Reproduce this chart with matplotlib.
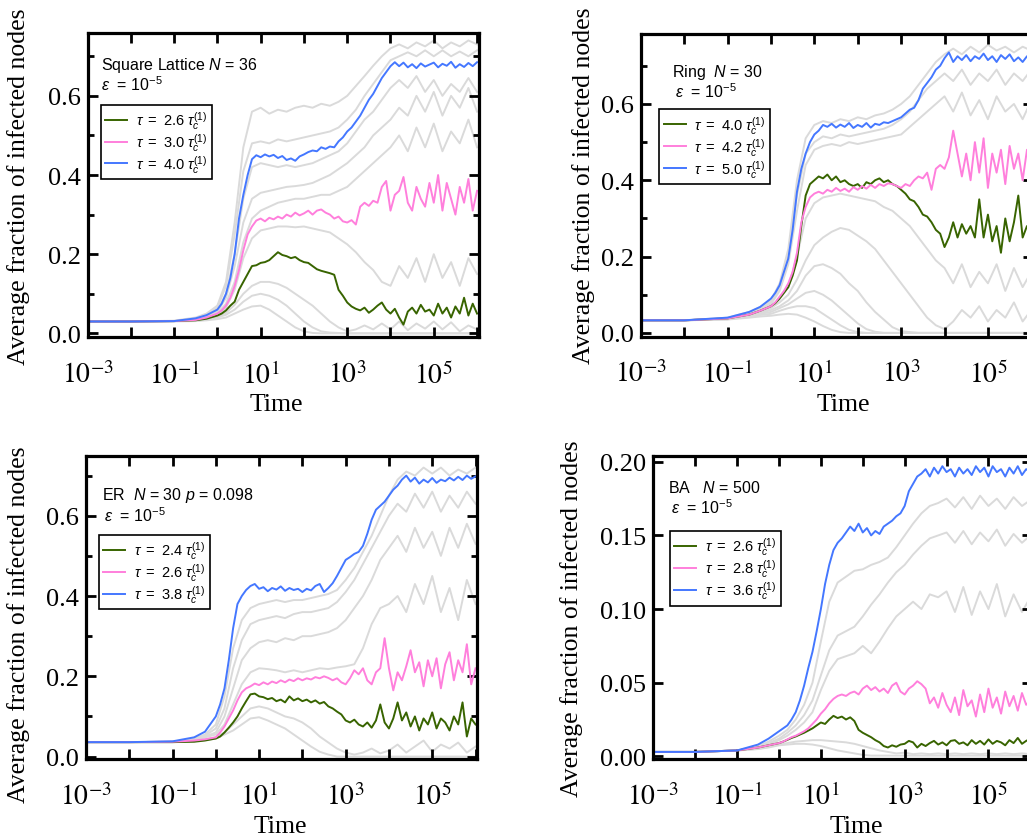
import numpy as np
import matplotlib
matplotlib.use("Agg")
import matplotlib.pyplot as plt
from matplotlib.ticker import FixedLocator, FuncFormatter, NullLocator, MultipleLocator, FormatStrFormatter
from matplotlib.font_manager import FontProperties

plt.rcParams['font.family'] = 'Liberation Serif'
plt.rcParams['mathtext.fontset'] = 'stix'
plt.rcParams['mathtext.rm'] = 'Liberation Sans'
plt.rcParams['mathtext.it'] = 'Liberation Sans:italic'
plt.rcParams['mathtext.bf'] = 'Liberation Sans:bold'

# ---------------- time grids (log10 of time) ----------------
LOGT_F = [-3, -2, -1, -0.5, -0.25,
          0.0, 0.1, 0.2, 0.3, 0.4, 0.5, 0.6, 0.7, 0.8, 0.9,
          1.0, 1.1, 1.2, 1.3, 1.4, 1.5, 1.6, 1.7, 1.8, 1.9,
          2.0, 2.1, 2.2, 2.3, 2.4, 2.5, 2.6, 2.7, 2.8, 2.9,
          3.0, 3.1, 3.2, 3.3, 3.4, 3.5, 3.6, 3.7, 3.8, 3.9,
          4.0, 4.1, 4.2, 4.3, 4.4, 4.5, 4.6, 4.7, 4.8, 4.9,
          5.0, 5.1, 5.2, 5.3, 5.4, 5.5, 5.6, 5.7, 5.8, 5.9, 6.0]
LOGT_C = [-3, -2, -1, -0.5, -0.25,
          0.0, 0.2, 0.4, 0.6, 0.8, 1.0, 1.2, 1.4, 1.6, 1.8,
          2.0, 2.2, 2.4, 2.6, 2.8, 3.0, 3.2, 3.4, 3.6, 3.8,
          4.0, 4.2, 4.4, 4.6, 4.8, 5.0, 5.2, 5.4, 5.6, 5.8, 6.0]

# ---------------- Panel 1: Square lattice ----------------
sq_green = [0.03, 0.03, 0.031, 0.033, 0.037,
            0.045, 0.05, 0.058, 0.07, 0.08, 0.11, 0.13, 0.15, 0.17, 0.172,
            0.178, 0.18, 0.185, 0.195, 0.205, 0.198, 0.195, 0.19, 0.193, 0.185,
            0.18, 0.178, 0.17, 0.162, 0.158, 0.155, 0.152, 0.148, 0.11, 0.095,
            0.078, 0.068, 0.062, 0.058, 0.065, 0.052, 0.06, 0.07, 0.078, 0.06,
            0.05, 0.062, 0.04, 0.022, 0.055, 0.065, 0.05, 0.072, 0.055, 0.06,
            0.045, 0.075, 0.05, 0.065, 0.04, 0.068, 0.05, 0.09, 0.045, 0.075, 0.05]
sq_pink = [0.03, 0.03, 0.031, 0.034, 0.04,
           0.05, 0.058, 0.07, 0.09, 0.12, 0.16, 0.21, 0.25, 0.27, 0.285,
           0.29, 0.283, 0.292, 0.288, 0.295, 0.29, 0.30, 0.295, 0.305, 0.298,
           0.303, 0.31, 0.30, 0.31, 0.313, 0.305, 0.30, 0.29, 0.295, 0.283,
           0.28, 0.286, 0.275, 0.32, 0.33, 0.322, 0.335, 0.33, 0.37, 0.385,
           0.31, 0.35, 0.36, 0.395, 0.33, 0.31, 0.37, 0.34, 0.32, 0.38,
           0.33, 0.40, 0.31, 0.38, 0.34, 0.30, 0.37, 0.33, 0.39, 0.31, 0.36]
sq_blue = [0.03, 0.03, 0.031, 0.038, 0.046,
           0.06, 0.075, 0.10, 0.14, 0.20, 0.29, 0.35, 0.40, 0.44, 0.45,
           0.445, 0.452, 0.447, 0.451, 0.443, 0.448, 0.438, 0.442, 0.436, 0.447,
           0.452, 0.458, 0.462, 0.46, 0.47, 0.466, 0.472, 0.47, 0.485, 0.495,
           0.51, 0.52, 0.535, 0.55, 0.57, 0.59, 0.605, 0.625, 0.645, 0.66,
           0.675, 0.685, 0.675, 0.684, 0.672, 0.68, 0.67, 0.682, 0.674, 0.679,
           0.684, 0.672, 0.681, 0.676, 0.686, 0.671, 0.68, 0.673, 0.683, 0.675, 0.685]
sq_gray1 = [0.03, 0.03, 0.032, 0.04, 0.05, 0.07, 0.13, 0.28, 0.47, 0.56,
            0.57, 0.555, 0.565, 0.56, 0.57, 0.575, 0.57, 0.58, 0.575, 0.585,
            0.60, 0.625, 0.65, 0.676, 0.70, 0.72, 0.73, 0.72, 0.735, 0.725,
            0.74, 0.72, 0.735, 0.725, 0.74, 0.73]
sq_gray2 = [0.03, 0.03, 0.031, 0.038, 0.047, 0.065, 0.12, 0.25, 0.41, 0.48,
            0.485, 0.48, 0.49, 0.485, 0.49, 0.495, 0.50, 0.505, 0.51, 0.52,
            0.54, 0.565, 0.60, 0.63, 0.66, 0.69, 0.70, 0.71, 0.70, 0.715,
            0.70, 0.715, 0.70, 0.712, 0.70, 0.715]
sq_gray3 = [0.03, 0.03, 0.031, 0.036, 0.044, 0.058, 0.10, 0.20, 0.34, 0.42,
            0.43, 0.425, 0.42, 0.425, 0.42, 0.425, 0.43, 0.44, 0.45, 0.46,
            0.48, 0.51, 0.54, 0.56, 0.59, 0.62, 0.64, 0.62, 0.65, 0.61,
            0.64, 0.60, 0.63, 0.61, 0.645, 0.61]
sq_gray4 = [0.03, 0.03, 0.031, 0.035, 0.042, 0.054, 0.09, 0.17, 0.28, 0.34,
            0.355, 0.36, 0.365, 0.37, 0.372, 0.375, 0.38, 0.39, 0.40, 0.415,
            0.43, 0.45, 0.47, 0.50, 0.52, 0.54, 0.57, 0.55, 0.60, 0.56,
            0.61, 0.55, 0.60, 0.57, 0.62, 0.56]
sq_gray5 = [0.03, 0.03, 0.031, 0.034, 0.04, 0.05, 0.075, 0.13, 0.23, 0.29,
            0.31, 0.32, 0.33, 0.335, 0.34, 0.34, 0.345, 0.35, 0.35, 0.36,
            0.37, 0.39, 0.41, 0.43, 0.45, 0.47, 0.50, 0.46, 0.52, 0.47,
            0.53, 0.46, 0.51, 0.48, 0.54, 0.47]
sq_gray6 = [0.03, 0.03, 0.031, 0.033, 0.038, 0.045, 0.065, 0.11, 0.19, 0.24,
            0.26, 0.265, 0.27, 0.27, 0.268, 0.27, 0.265, 0.26, 0.255, 0.24,
            0.225, 0.205, 0.18, 0.16, 0.13, 0.12, 0.17, 0.14, 0.19, 0.13,
            0.20, 0.14, 0.18, 0.12, 0.19, 0.15]
sq_gray7 = [0.03, 0.03, 0.031, 0.033, 0.036, 0.042, 0.052, 0.072, 0.10, 0.12,
            0.13, 0.13, 0.125, 0.115, 0.10, 0.085, 0.07, 0.05, 0.03, 0.015,
            0.005, 0.01, 0.02, 0.01, 0.025, 0.01, 0.03, 0.008, 0.025, 0.012,
            0.03, 0.01, 0.028, 0.005, 0.02, 0.01]
sq_gray8 = [0.03, 0.03, 0.031, 0.032, 0.035, 0.04, 0.047, 0.06, 0.08, 0.095,
            0.10, 0.095, 0.085, 0.07, 0.05, 0.03, 0.015, 0.005, 0.002, 0.001,
            0.0, 0.0, 0.0, 0.0, 0.0, 0.0, 0.0, 0.0, 0.0, 0.0,
            0.0, 0.0, 0.0, 0.0, 0.0, 0.0]
sq_gray9 = [0.03, 0.03, 0.03, 0.031, 0.033, 0.036, 0.04, 0.05, 0.06, 0.068,
            0.07, 0.06, 0.045, 0.03, 0.015, 0.005, 0.001, 0.0, 0.0, 0.0,
            0.0, 0.0, 0.0, 0.0, 0.0, 0.0, 0.0, 0.0, 0.0, 0.0,
            0.0, 0.0, 0.0, 0.0, 0.0, 0.0]

# ---------------- Panel 2: Ring ----------------
ring_green = [0.033, 0.033, 0.038, 0.048, 0.058,
              0.07, 0.078, 0.09, 0.105, 0.12, 0.15, 0.19, 0.28, 0.36, 0.39,
              0.40, 0.41, 0.405, 0.415, 0.40, 0.41, 0.395, 0.40, 0.39, 0.385,
              0.39, 0.38, 0.395, 0.39, 0.40, 0.405, 0.395, 0.40, 0.39, 0.385,
              0.375, 0.365, 0.35, 0.345, 0.33, 0.31, 0.305, 0.29, 0.27, 0.26,
              0.225, 0.25, 0.29, 0.25, 0.285, 0.26, 0.28, 0.25, 0.35, 0.25,
              0.31, 0.24, 0.28, 0.21, 0.30, 0.24, 0.29, 0.36, 0.25, 0.28, 0.26]
ring_pink = [0.033, 0.033, 0.038, 0.048, 0.058,
             0.07, 0.08, 0.095, 0.11, 0.13, 0.16, 0.21, 0.29, 0.33, 0.355,
             0.365, 0.37, 0.365, 0.375, 0.37, 0.38, 0.372, 0.378, 0.37, 0.382,
             0.375, 0.385, 0.378, 0.388, 0.38, 0.39, 0.385, 0.392, 0.39, 0.385,
             0.38, 0.39, 0.385, 0.40, 0.41, 0.405, 0.42, 0.375, 0.43, 0.44,
             0.43, 0.46, 0.53, 0.47, 0.41, 0.47, 0.40, 0.50, 0.42, 0.51,
             0.38, 0.47, 0.42, 0.48, 0.39, 0.49, 0.43, 0.47, 0.40, 0.48, 0.44]
ring_blue = [0.033, 0.033, 0.04, 0.055, 0.068,
             0.09, 0.105, 0.125, 0.16, 0.195, 0.27, 0.37, 0.43, 0.47, 0.50,
             0.52, 0.53, 0.545, 0.54, 0.548, 0.538, 0.546, 0.54, 0.55, 0.537,
             0.545, 0.54, 0.55, 0.538, 0.548, 0.545, 0.552, 0.55, 0.555, 0.56,
             0.565, 0.575, 0.585, 0.59, 0.61, 0.64, 0.655, 0.67, 0.69, 0.70,
             0.72, 0.735, 0.71, 0.725, 0.715, 0.728, 0.712, 0.725, 0.718, 0.732,
             0.715, 0.725, 0.71, 0.728, 0.718, 0.73, 0.712, 0.722, 0.71, 0.725, 0.715]
ring_gray1 = [0.033, 0.033, 0.04, 0.055, 0.068, 0.085, 0.13, 0.22, 0.40, 0.51,
              0.545, 0.555, 0.55, 0.56, 0.555, 0.565, 0.56, 0.57, 0.575, 0.585,
              0.60, 0.62, 0.65, 0.68, 0.71, 0.73, 0.745, 0.73, 0.75, 0.735,
              0.755, 0.74, 0.75, 0.735, 0.75, 0.74]
ring_gray2 = [0.033, 0.033, 0.039, 0.052, 0.064, 0.08, 0.12, 0.20, 0.36, 0.47,
              0.50, 0.515, 0.51, 0.52, 0.515, 0.52, 0.525, 0.53, 0.535, 0.545,
              0.56, 0.58, 0.61, 0.64, 0.66, 0.68, 0.66, 0.69, 0.65, 0.68,
              0.66, 0.69, 0.65, 0.68, 0.66, 0.69]
ring_gray3 = [0.033, 0.033, 0.039, 0.05, 0.062, 0.075, 0.11, 0.18, 0.32, 0.44,
              0.48, 0.49, 0.495, 0.49, 0.50, 0.495, 0.50, 0.505, 0.51, 0.515,
              0.52, 0.54, 0.56, 0.58, 0.60, 0.62, 0.58, 0.63, 0.57, 0.61,
              0.56, 0.62, 0.58, 0.60, 0.56, 0.61]
ring_gray4 = [0.033, 0.033, 0.038, 0.047, 0.057, 0.07, 0.09, 0.12, 0.20, 0.30,
              0.34, 0.355, 0.36, 0.365, 0.36, 0.355, 0.35, 0.345, 0.33, 0.32,
              0.30, 0.28, 0.25, 0.22, 0.19, 0.17, 0.13, 0.18, 0.12, 0.16,
              0.13, 0.18, 0.11, 0.17, 0.12, 0.16]
ring_gray5 = [0.033, 0.033, 0.037, 0.045, 0.054, 0.065, 0.08, 0.10, 0.14, 0.19,
              0.23, 0.25, 0.265, 0.275, 0.27, 0.255, 0.24, 0.22, 0.19, 0.16,
              0.13, 0.10, 0.07, 0.04, 0.02, 0.01, 0.03, 0.06, 0.04, 0.07,
              0.03, 0.06, 0.04, 0.08, 0.03, 0.06]
ring_gray6 = [0.033, 0.033, 0.037, 0.044, 0.052, 0.06, 0.07, 0.085, 0.11, 0.15,
              0.175, 0.18, 0.17, 0.155, 0.13, 0.11, 0.08, 0.055, 0.035, 0.015,
              0.005, 0.002, 0.0, 0.0, 0.0, 0.0, 0.0, 0.0, 0.0, 0.0,
              0.0, 0.0, 0.0, 0.0, 0.0, 0.0]
ring_gray7 = [0.033, 0.033, 0.036, 0.043, 0.05, 0.055, 0.065, 0.075, 0.09, 0.105,
              0.11, 0.10, 0.085, 0.065, 0.045, 0.025, 0.01, 0.003, 0.0, 0.0,
              0.0, 0.0, 0.0, 0.0, 0.0, 0.0, 0.0, 0.0, 0.0, 0.0,
              0.0, 0.0, 0.0, 0.0, 0.0, 0.0]
ring_gray8 = [0.033, 0.033, 0.036, 0.042, 0.047, 0.05, 0.058, 0.065, 0.07, 0.07,
              0.065, 0.05, 0.035, 0.02, 0.008, 0.002, 0.0, 0.0, 0.0, 0.0,
              0.0, 0.0, 0.0, 0.0, 0.0, 0.0, 0.0, 0.0, 0.0, 0.0,
              0.0, 0.0, 0.0, 0.0, 0.0, 0.0]
ring_gray9 = [0.033, 0.033, 0.035, 0.04, 0.043, 0.045, 0.048, 0.05, 0.048, 0.04,
              0.03, 0.018, 0.008, 0.002, 0.0, 0.0, 0.0, 0.0, 0.0, 0.0,
              0.0, 0.0, 0.0, 0.0, 0.0, 0.0, 0.0, 0.0, 0.0, 0.0,
              0.0, 0.0, 0.0, 0.0, 0.0, 0.0]

# ---------------- Panel 3: ER ----------------
er_green = [0.036, 0.036, 0.036, 0.037, 0.04,
            0.045, 0.05, 0.06, 0.072, 0.085, 0.10, 0.12, 0.138, 0.155, 0.157,
            0.15, 0.148, 0.143, 0.146, 0.138, 0.142, 0.135, 0.15, 0.14, 0.145,
            0.138, 0.142, 0.135, 0.14, 0.132, 0.136, 0.125, 0.12, 0.112, 0.105,
            0.09, 0.085, 0.092, 0.08, 0.075, 0.085, 0.072, 0.09, 0.13, 0.085,
            0.07, 0.095, 0.135, 0.09, 0.11, 0.075, 0.10, 0.065, 0.095, 0.08,
            0.11, 0.07, 0.095, 0.085, 0.065, 0.10, 0.08, 0.135, 0.05, 0.095, 0.08]
er_pink = [0.036, 0.036, 0.037, 0.04, 0.043,
           0.048, 0.06, 0.075, 0.095, 0.115, 0.14, 0.16, 0.17, 0.175, 0.182,
           0.178, 0.185, 0.18, 0.187, 0.183, 0.19, 0.185, 0.192, 0.188, 0.195,
           0.19, 0.195, 0.192, 0.198, 0.195, 0.20, 0.196, 0.19, 0.195, 0.185,
           0.18, 0.195, 0.215, 0.205, 0.22, 0.19, 0.18, 0.21, 0.22, 0.295,
           0.22, 0.165, 0.21, 0.19, 0.225, 0.265, 0.21, 0.235, 0.175, 0.24,
           0.20, 0.245, 0.17, 0.23, 0.26, 0.19, 0.24, 0.21, 0.28, 0.18, 0.22]
er_blue = [0.036, 0.036, 0.038, 0.048, 0.062,
           0.10, 0.13, 0.17, 0.24, 0.32, 0.38, 0.40, 0.415, 0.425, 0.43,
           0.418, 0.422, 0.412, 0.42, 0.416, 0.424, 0.413, 0.42, 0.415, 0.418,
           0.41, 0.418, 0.414, 0.425, 0.43, 0.41, 0.42, 0.432, 0.45, 0.47,
           0.49, 0.497, 0.505, 0.51, 0.525, 0.555, 0.59, 0.615, 0.625, 0.635,
           0.65, 0.665, 0.675, 0.69, 0.70, 0.685, 0.695, 0.68, 0.69, 0.683,
           0.694, 0.682, 0.69, 0.686, 0.695, 0.688, 0.697, 0.689, 0.70, 0.692, 0.698]
er_gray1 = [0.036, 0.036, 0.037, 0.045, 0.055, 0.08, 0.15, 0.27, 0.34, 0.37,
            0.38, 0.385, 0.39, 0.385, 0.39, 0.39, 0.395, 0.40, 0.405, 0.415,
            0.44, 0.47, 0.51, 0.55, 0.60, 0.65, 0.69, 0.71, 0.70, 0.72,
            0.705, 0.72, 0.70, 0.715, 0.705, 0.72]
er_gray2 = [0.036, 0.036, 0.037, 0.043, 0.052, 0.07, 0.12, 0.22, 0.29, 0.33,
            0.34, 0.345, 0.35, 0.345, 0.355, 0.36, 0.36, 0.365, 0.37, 0.385,
            0.41, 0.44, 0.48, 0.52, 0.56, 0.60, 0.63, 0.61, 0.655, 0.62,
            0.66, 0.61, 0.65, 0.62, 0.66, 0.63]
er_gray3 = [0.036, 0.036, 0.037, 0.042, 0.05, 0.06, 0.10, 0.17, 0.24, 0.27,
            0.285, 0.29, 0.285, 0.295, 0.29, 0.30, 0.30, 0.305, 0.31, 0.32,
            0.34, 0.37, 0.40, 0.44, 0.49, 0.52, 0.55, 0.51, 0.57, 0.52,
            0.56, 0.50, 0.57, 0.52, 0.58, 0.53]
er_gray4 = [0.036, 0.036, 0.037, 0.041, 0.048, 0.055, 0.08, 0.13, 0.18, 0.21,
            0.22, 0.218, 0.215, 0.21, 0.215, 0.21, 0.215, 0.22, 0.218, 0.222,
            0.225, 0.23, 0.27, 0.33, 0.37, 0.38, 0.40, 0.36, 0.43, 0.38,
            0.45, 0.36, 0.42, 0.34, 0.44, 0.38]
er_gray5 = [0.036, 0.036, 0.036, 0.039, 0.043, 0.048, 0.06, 0.08, 0.10, 0.12,
            0.125, 0.12, 0.11, 0.10, 0.095, 0.085, 0.07, 0.05, 0.035, 0.02,
            0.01, 0.005, 0.01, 0.02, 0.008, 0.015, 0.03, 0.01, 0.025, 0.04,
            0.012, 0.03, 0.02, 0.035, 0.01, 0.025]
er_gray6 = [0.036, 0.036, 0.036, 0.038, 0.041, 0.045, 0.055, 0.065, 0.08, 0.095,
            0.098, 0.09, 0.08, 0.07, 0.055, 0.04, 0.025, 0.012, 0.005, 0.0,
            0.0, 0.0, 0.0, 0.0, 0.0, 0.0, 0.0, 0.0, 0.0, 0.0,
            0.0, 0.0, 0.0, 0.0, 0.0, 0.0]

# ---------------- Panel 4: BA ----------------
ba_green = [0.003, 0.003, 0.004, 0.006, 0.0075,
            0.009, 0.010, 0.0112, 0.0125, 0.0135, 0.0148, 0.016, 0.0175, 0.019, 0.021,
            0.023, 0.022, 0.025, 0.0275, 0.026, 0.027, 0.025, 0.0265, 0.024, 0.018,
            0.016, 0.0145, 0.013, 0.011, 0.0095, 0.007, 0.006, 0.0075, 0.0065, 0.008,
            0.0085, 0.0105, 0.0095, 0.006, 0.0085, 0.007, 0.009, 0.0105, 0.008, 0.0095,
            0.0075, 0.0105, 0.011, 0.0085, 0.0095, 0.0075, 0.011, 0.0085, 0.0105, 0.008,
            0.0115, 0.0085, 0.0105, 0.0095, 0.0075, 0.011, 0.009, 0.0125, 0.0085, 0.0105, 0.012]
ba_pink = [0.003, 0.003, 0.004, 0.006, 0.0075,
           0.009, 0.010, 0.0115, 0.013, 0.014, 0.0155, 0.017, 0.019, 0.022, 0.025,
           0.029, 0.032, 0.036, 0.039, 0.041, 0.042, 0.041, 0.043, 0.044, 0.042,
           0.046, 0.048, 0.045, 0.047, 0.044, 0.046, 0.043, 0.048, 0.05, 0.044,
           0.042, 0.046, 0.048, 0.051, 0.049, 0.046, 0.036, 0.04, 0.033, 0.043,
           0.035, 0.03, 0.04, 0.028, 0.045, 0.034, 0.038, 0.027, 0.042, 0.03,
           0.046, 0.033, 0.04, 0.029, 0.044, 0.034, 0.041, 0.031, 0.043, 0.035, 0.038]
ba_blue = [0.003, 0.003, 0.004, 0.008, 0.012,
           0.017, 0.019, 0.021, 0.025, 0.03, 0.038, 0.048, 0.06, 0.071, 0.085,
           0.10, 0.117, 0.13, 0.14, 0.145, 0.148, 0.152, 0.156, 0.153, 0.158,
           0.152, 0.155, 0.15, 0.153, 0.151, 0.156, 0.158, 0.16, 0.163, 0.165,
           0.17, 0.18, 0.185, 0.19, 0.192, 0.195, 0.19, 0.196, 0.192, 0.197,
           0.193, 0.195, 0.19, 0.196, 0.192, 0.195, 0.191, 0.197, 0.193, 0.196,
           0.19, 0.197, 0.193, 0.195, 0.19, 0.196, 0.192, 0.197, 0.191, 0.195, 0.193]
ba_gray1 = [0.003, 0.003, 0.004, 0.007, 0.01, 0.014, 0.018, 0.025, 0.035, 0.05,
            0.078, 0.105, 0.118, 0.122, 0.126, 0.127, 0.13, 0.132, 0.135, 0.142,
            0.15, 0.158, 0.165, 0.17, 0.172, 0.175, 0.169, 0.176, 0.168, 0.177,
            0.17, 0.175, 0.168, 0.176, 0.17, 0.174]
ba_gray2 = [0.003, 0.003, 0.004, 0.006, 0.009, 0.012, 0.016, 0.021, 0.028, 0.038,
            0.055, 0.072, 0.082, 0.085, 0.088, 0.095, 0.103, 0.11, 0.118, 0.125,
            0.13, 0.137, 0.143, 0.148, 0.15, 0.152, 0.145, 0.153, 0.144, 0.152,
            0.146, 0.154, 0.143, 0.151, 0.145, 0.15]
ba_gray3 = [0.003, 0.003, 0.004, 0.006, 0.008, 0.011, 0.014, 0.018, 0.023, 0.03,
            0.045, 0.058, 0.066, 0.068, 0.07, 0.075, 0.07, 0.078, 0.087, 0.095,
            0.10, 0.105, 0.10, 0.11, 0.108, 0.112, 0.098, 0.115, 0.096, 0.112,
            0.10, 0.117, 0.095, 0.11, 0.098, 0.108]
ba_gray4 = [0.003, 0.003, 0.004, 0.005, 0.0065, 0.008, 0.009, 0.01, 0.0105, 0.011,
            0.011, 0.0105, 0.01, 0.0095, 0.0085, 0.007, 0.0055, 0.004, 0.003, 0.002,
            0.0025, 0.0015, 0.002, 0.0015, 0.002, 0.0015, 0.002, 0.0015, 0.002, 0.0015,
            0.002, 0.0015, 0.002, 0.0015, 0.002, 0.0015]
ba_gray5 = [0.003, 0.003, 0.004, 0.005, 0.006, 0.0075, 0.008, 0.0085, 0.0085, 0.008,
            0.007, 0.0055, 0.004, 0.003, 0.002, 0.001, 0.0005, 0.0005, 0.0005, 0.0005,
            0.0005, 0.0005, 0.0005, 0.0005, 0.0005, 0.0005, 0.0005, 0.0005, 0.0005, 0.0005,
            0.0005, 0.0005, 0.0005, 0.0005, 0.0005, 0.0005]

# ---------------- texts ----------------
sq_title = ['Square Lattice $N$ = 36', r'$\varepsilon$  = 10$^{-5}$']
ring_title = ['Ring  $N$ = 30', r'$\varepsilon$  = 10$^{-5}$']
er_title = ['ER  $N$ = 30 $p$ = 0.098', r'$\varepsilon$  = 10$^{-5}$']
ba_title = ['BA   $N$ = 500', r'$\varepsilon$  = 10$^{-5}$']
sq_taus = ['2.6', '3.0', '4.0']
ring_taus = ['4.0', '4.2', '5.0']
er_taus = ['2.4', '2.6', '3.8']
ba_taus = ['2.6', '2.8', '3.6']

GREEN = '#386400'
PINK = '#ff7fdc'
BLUE = '#4477ff'
GRAY = '#dadada'

panels = [
    dict(rect=[0.0852, 0.5958, 0.381, 0.3632], ylim=(-0.01, 0.758), yfmt='%.1f', ymaj=0.2, ymin=0.1,
         grays=[sq_gray1, sq_gray2, sq_gray3, sq_gray4, sq_gray5, sq_gray6, sq_gray7, sq_gray8, sq_gray9],
         cols=[sq_green, sq_pink, sq_blue], taus=sq_taus, title=sq_title,
         tpos=[(0.0345, 0.882), (0.0345, 0.814)], lpos=(0.0345, 0.765),
         ylab=(19, 187), xlab=(276, 411)),
    dict(rect=[0.6239, 0.5965, 0.382, 0.362], ylim=(-0.01, 0.784), yfmt='%.1f', ymaj=0.2, ymin=0.1,
         grays=[ring_gray1, ring_gray2, ring_gray3, ring_gray4, ring_gray5, ring_gray6, ring_gray7, ring_gray8, ring_gray9],
         cols=[ring_green, ring_pink, ring_blue], taus=ring_taus, title=ring_title,
         tpos=[(0.08, 0.861), (0.0874, 0.790)], lpos=(0.0474, 0.75),
         ylab=(584, 186), xlab=(843, 411)),
    dict(rect=[0.0837, 0.092, 0.381, 0.3616], ylim=(-0.006, 0.748), yfmt='%.1f', ymaj=0.2, ymin=0.1,
         grays=[er_gray1, er_gray2, er_gray3, er_gray4, er_gray5, er_gray6],
         cols=[er_green, er_pink, er_blue], taus=er_taus, title=er_title,
         tpos=[(0.04, 0.859), (0.046, 0.788)], lpos=(0.033, 0.74),
         ylab=(19, 625), xlab=(280, 833)),
    dict(rect=[0.6361, 0.092, 0.3688, 0.3616], ylim=(-0.0018, 0.2037), yfmt='%.2f', ymaj=0.05, ymin=None,
         grays=[ba_gray1, ba_gray2, ba_gray3, ba_gray4, ba_gray5],
         cols=[ba_green, ba_pink, ba_blue], taus=ba_taus, title=ba_title,
         tpos=[(0.038, 0.881), (0.047, 0.812)], lpos=(0.044, 0.753),
         ylab=(572, 619), xlab=(856, 833)),
]

W, H = 1027, 837
fig = plt.figure(figsize=(W / 100, H / 100), dpi=100)

tf = 10.0 ** np.array(LOGT_F)
tc = 10.0 ** np.array(LOGT_C)


def xfmt(v, pos):
    e = int(round(np.log10(v)))
    return (r'$10^{%d}$' % e) if e % 2 else ''


sans = FontProperties(family='Liberation Sans', size=10.5, math_fontfamily='custom')

for p in panels:
    ax = fig.add_axes(p['rect'])
    ax.set_xscale('log')
    ax.set_xlim(1e-3, 10 ** 6.04)
    ax.set_ylim(*p['ylim'])
    for g in p['grays']:
        ax.plot(tc, g, color=GRAY, lw=1.4, zorder=1)
    for vals, col, tau in zip(p['cols'], [GREEN, PINK, BLUE], p['taus']):
        ax.plot(tf, vals, color=col, lw=1.4, zorder=2,
                label=r'$\tau\ =\ %s\ \tau_{c}^{(1)}$' % tau)

    ax.xaxis.set_major_locator(FixedLocator(10.0 ** np.arange(-3, 7)))
    ax.xaxis.set_minor_locator(NullLocator())
    ax.xaxis.set_major_formatter(FuncFormatter(xfmt))
    ax.yaxis.set_major_locator(MultipleLocator(p['ymaj']))
    if p['ymin']:
        ax.yaxis.set_minor_locator(MultipleLocator(p['ymin']))
    else:
        ax.yaxis.set_minor_locator(NullLocator())
    ax.yaxis.set_major_formatter(FormatStrFormatter(p['yfmt']))
    ax.tick_params(which='both', direction='in', top=True, right=True, width=2.0, color='black')
    ax.tick_params(which='major', length=7.5)
    ax.tick_params(which='minor', length=4)
    ax.tick_params(axis='x', pad=17, labelsize=20)
    ax.tick_params(axis='y', pad=5, labelsize=19)
    for s in ax.spines.values():
        s.set_linewidth(2.3)

    t1, t2 = p['title']
    ax.text(*p['tpos'][0], t1, transform=ax.transAxes, fontsize=11.5, family='Liberation Sans',
            math_fontfamily='custom', va='baseline', ha='left')
    ax.text(*p['tpos'][1], t2, transform=ax.transAxes, fontsize=11.5, family='Liberation Sans',
            math_fontfamily='custom', va='baseline', ha='left')

    leg = ax.legend(loc='upper left', bbox_to_anchor=p['lpos'], borderaxespad=0, prop=sans,
                    frameon=True, fancybox=False, framealpha=1, edgecolor='black',
                    handlelength=1.5, handletextpad=0.6, labelspacing=0.0, borderpad=0.3)
    leg.get_frame().set_linewidth(1.2)

    fig.text(p['ylab'][0] / W, 1 - p['ylab'][1] / H, 'Average fraction of infected nodes',
             rotation=90, ha='center', va='center', fontsize=18.5)
    fig.text(p['xlab'][0] / W, 1 - p['xlab'][1] / H, 'Time', ha='center', va='baseline', fontsize=18.5)

fig.savefig('out.png', dpi=100)
